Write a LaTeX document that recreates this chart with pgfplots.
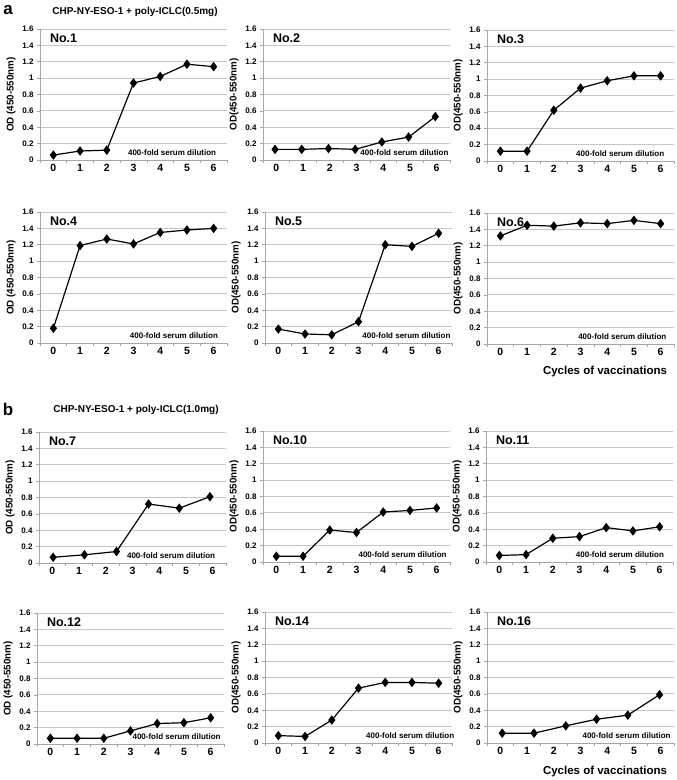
\documentclass[border=0pt]{standalone}
\usepackage{fontspec}
\setmainfont{Liberation Sans}
\usepackage{pgfplots}
\pgfplotsset{compat=1.18}
\pgfplotsset{
  panel/.style={
    scale only axis, width=187pt, height=131pt, anchor=south west,
    xmin=-0.5, xmax=6.5, ymin=0, ymax=1.6, clip=false,
    xtick={-0.5,0.5,1.5,2.5,3.5,4.5,5.5,6.5}, xticklabels={},
    extra x ticks={0,1,2,3,4,5,6},
    extra x tick labels={0,1,2,3,4,5,6},
    extra x tick style={major tick length=0pt},
    ytick={0,0.2,0.4,0.6,0.8,1,1.2,1.4,1.6},
    axis x line*=bottom, axis y line*=left,
    axis line style={-, draw=gray!70, line width=0.8pt},
    tick align=outside, major tick length=3pt,
    tick style={draw=gray!70, line width=0.6pt},
    ymajorgrids, major grid style={draw=gray!45, line width=0.8pt},
    /pgf/number format/assume math mode=true,
    x tick label style={font=\fontsize{10.5}{12}\selectfont\bfseries, yshift=-1pt},
    y tick label style={font=\fontsize{8}{9}\selectfont\bfseries},
    ylabel style={at={(axis description cs:-0.155,0.5)}, anchor=center,
      font=\fontsize{9.8}{11}\selectfont\bfseries},
  },
  ser/.style={black, line width=1.2pt, mark=diamond*, mark size=3.8pt,
    mark options={solid, fill=black}},
}
\newcommand{\panel}[5]{%
\begin{axis}[panel, at={#1}, ylabel={#2}]
\addplot[ser] coordinates {#4};
\node[anchor=west, font=\fontsize{12.5}{14}\selectfont\bfseries] at (rel axis cs:0.035,0.93) {#3};
\node[anchor=west, font=\fontsize{8}{9}\selectfont\bfseries, inner sep=0pt] at (rel axis cs:#5,0.055) {400-fold serum dilution};
\end{axis}}
\begin{document}
\begin{tikzpicture}[x=1pt,y=1pt]
\node[font=\fontsize{17}{18}\selectfont\bfseries] at (8pt,770pt) {a};
\node[font=\fontsize{10}{12}\selectfont\bfseries] at (135pt,768pt) {CHP-NY-ESO-1 + poly-ICLC(0.5mg)};
\node[font=\fontsize{17}{18}\selectfont\bfseries] at (8pt,371pt) {b};
\node[font=\fontsize{10}{12}\selectfont\bfseries] at (136pt,370pt) {CHP-NY-ESO-1 + poly-ICLC(1.0mg)};

\panel{(40pt,620pt)}{OD (450-550nm)}{No.1}{(0,0.06) (1,0.11) (2,0.12) (3,0.94) (4,1.02) (5,1.17) (6,1.14)}{0.47}
\panel{(263pt,620pt)}{OD(450-550nm)}{No.2}{(-0.05,0.13) (0.95,0.13) (1.95,0.14) (2.95,0.13) (3.95,0.22) (4.95,0.28) (5.95,0.53)}{0.52}
\panel{(487pt,619pt)}{OD(450-550nm)}{No.3}{(0,0.12) (1,0.12) (2,0.62) (3,0.89) (4,0.98) (5,1.04) (6,1.04)}{0.476}

\panel{(40pt,437pt)}{OD (450-550nm)}{No.4}{(0,0.18) (1,1.19) (2,1.27) (3,1.21) (4,1.35) (5,1.38) (6,1.40)}{0.48}
\panel{(265pt,437pt)}{OD(450-550nm)}{No.5}{(0,0.17) (1,0.11) (2,0.10) (3,0.26) (4,1.20) (5,1.18) (6,1.34)}{0.52}
\panel{(487pt,436pt)}{OD(450-550nm)}{No.6}{(0,1.32) (1,1.45) (2,1.44) (3,1.48) (4,1.47) (5,1.51) (6,1.47)}{0.487}
\node[font=\fontsize{11.5}{13}\selectfont\bfseries] at (605pt,408pt) {Cycles of vaccinations};

\panel{(39pt,217pt)}{OD (450-550nm)}{No.7}{(0.03,0.07) (1.2,0.10) (2.4,0.14) (3.6,0.72) (4.75,0.67) (5.9,0.81)}{0.47}
\panel{(263pt,218pt)}{OD(450-550nm)}{No.10}{(0,0.07) (1,0.07) (2,0.39) (3,0.36) (4,0.61) (5,0.63) (6,0.66)}{0.51}
\panel{(486pt,218pt)}{OD(450-550nm)}{No.11}{(0,0.08) (1,0.09) (2,0.29) (3,0.31) (4,0.42) (5,0.38) (6,0.43)}{0.48}

\panel{(37pt,36pt)}{OD (450-550nm)}{No.12}{(0,0.07) (1,0.07) (2,0.07) (3,0.16) (4,0.25) (5,0.26) (6,0.32)}{0.51}
\panel{(265pt,37pt)}{OD(450-550nm)}{No.14}{(0,0.09) (1,0.08) (2,0.28) (3,0.67) (4,0.74) (5,0.74) (6,0.73)}{0.54}
\panel{(487pt,37pt)}{OD(450-550nm)}{No.16}{(0.07,0.12) (1.26,0.12) (2.45,0.21) (3.6,0.29) (4.77,0.34) (5.96,0.59)}{0.51}
\node[font=\fontsize{11.5}{13}\selectfont\bfseries] at (605pt,8pt) {Cycles of vaccinations};

\pgfresetboundingbox
\useasboundingbox (0pt,0pt) rectangle (677pt,780pt);
\end{tikzpicture}
\end{document}
